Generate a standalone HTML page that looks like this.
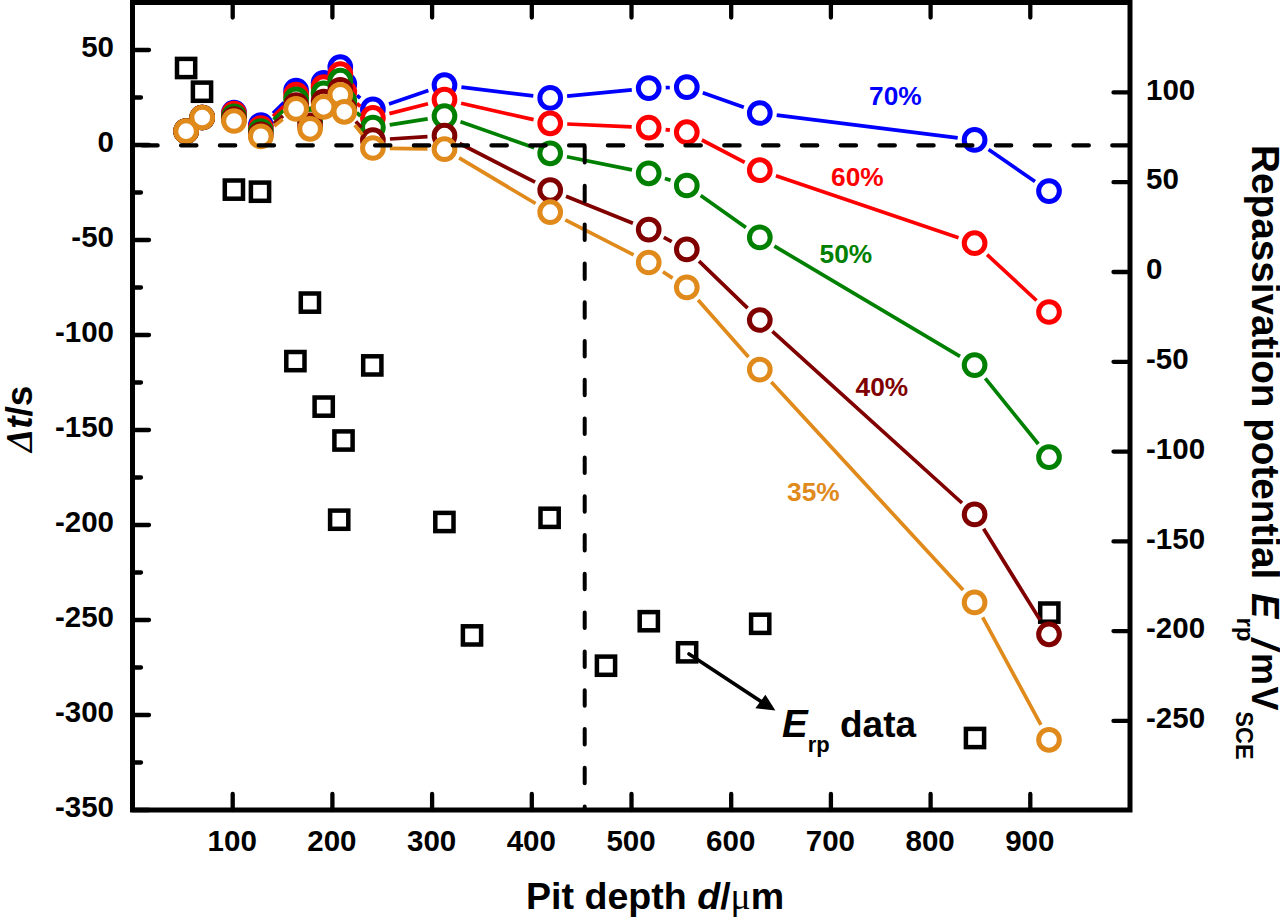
<!DOCTYPE html><html><head><meta charset="utf-8"><style>html,body{margin:0;padding:0;background:#fff;width:1280px;height:920px;overflow:hidden}svg{display:block}text{font-family:"Liberation Sans",sans-serif;font-weight:bold}</style></head><body>
<svg width="1280" height="920" viewBox="0 0 1280 920">
<rect width="1280" height="920" fill="#fff"/>
<rect x="177.0" y="58.9" width="18.2" height="18.2" fill="none" stroke="#000" stroke-width="4.5"/>
<rect x="192.9" y="82.6" width="18.2" height="18.2" fill="none" stroke="#000" stroke-width="4.5"/>
<rect x="224.8" y="180.5" width="18.2" height="18.2" fill="none" stroke="#000" stroke-width="4.5"/>
<rect x="250.9" y="182.6" width="18.2" height="18.2" fill="none" stroke="#000" stroke-width="4.5"/>
<rect x="286.3" y="352.0" width="18.2" height="18.2" fill="none" stroke="#000" stroke-width="4.5"/>
<rect x="300.8" y="293.5" width="18.2" height="18.2" fill="none" stroke="#000" stroke-width="4.5"/>
<rect x="314.6" y="397.5" width="18.2" height="18.2" fill="none" stroke="#000" stroke-width="4.5"/>
<rect x="330.1" y="510.6" width="18.2" height="18.2" fill="none" stroke="#000" stroke-width="4.5"/>
<rect x="334.4" y="431.4" width="18.2" height="18.2" fill="none" stroke="#000" stroke-width="4.5"/>
<rect x="363.2" y="356.3" width="18.2" height="18.2" fill="none" stroke="#000" stroke-width="4.5"/>
<rect x="435.3" y="512.9" width="18.2" height="18.2" fill="none" stroke="#000" stroke-width="4.5"/>
<rect x="462.9" y="626.3" width="18.2" height="18.2" fill="none" stroke="#000" stroke-width="4.5"/>
<rect x="540.5" y="508.7" width="18.2" height="18.2" fill="none" stroke="#000" stroke-width="4.5"/>
<rect x="596.9" y="656.6" width="18.2" height="18.2" fill="none" stroke="#000" stroke-width="4.5"/>
<rect x="639.7" y="612.1" width="18.2" height="18.2" fill="none" stroke="#000" stroke-width="4.5"/>
<rect x="678.0" y="643.2" width="18.2" height="18.2" fill="none" stroke="#000" stroke-width="4.5"/>
<rect x="751.1" y="614.7" width="18.2" height="18.2" fill="none" stroke="#000" stroke-width="4.5"/>
<rect x="965.9" y="728.9" width="18.2" height="18.2" fill="none" stroke="#000" stroke-width="4.5"/>
<rect x="1040.2" y="603.5" width="18.2" height="18.2" fill="none" stroke="#000" stroke-width="4.5"/>
<path d="M273.0 113.3L283.9 102.6M316.0 103.5L317.7 98.8M357.0 95.3L360.2 98.1M389.0 103.9L428.4 90.6M461.4 87.1L533.3 95.9M567.1 96.2L631.8 89.8M665.7 87.7L669.8 87.5M702.8 92.8L743.8 107.3M776.7 115.1L957.7 137.8M988.6 149.5L1035.0 181.5" stroke="#0000ff" stroke-width="3.7" fill="none"/>
<circle cx="186.1" cy="131.2" r="10.35" fill="#fff" stroke="#0000ff" stroke-width="5.0"/>
<circle cx="202.2" cy="117.5" r="10.35" fill="#fff" stroke="#0000ff" stroke-width="5.0"/>
<circle cx="234.0" cy="112.6" r="10.35" fill="#fff" stroke="#0000ff" stroke-width="5.0"/>
<circle cx="260.8" cy="125.2" r="10.35" fill="#fff" stroke="#0000ff" stroke-width="5.0"/>
<circle cx="296.1" cy="90.7" r="10.35" fill="#fff" stroke="#0000ff" stroke-width="5.0"/>
<circle cx="310.1" cy="119.5" r="10.35" fill="#fff" stroke="#0000ff" stroke-width="5.0"/>
<circle cx="323.6" cy="82.8" r="10.35" fill="#fff" stroke="#0000ff" stroke-width="5.0"/>
<circle cx="340.3" cy="67.0" r="10.35" fill="#fff" stroke="#0000ff" stroke-width="5.0"/>
<circle cx="344.3" cy="84.0" r="10.35" fill="#fff" stroke="#0000ff" stroke-width="5.0"/>
<circle cx="372.9" cy="109.4" r="10.35" fill="#fff" stroke="#0000ff" stroke-width="5.0"/>
<circle cx="444.5" cy="85.1" r="10.35" fill="#fff" stroke="#0000ff" stroke-width="5.0"/>
<circle cx="550.2" cy="97.9" r="10.35" fill="#fff" stroke="#0000ff" stroke-width="5.0"/>
<circle cx="648.7" cy="88.1" r="10.35" fill="#fff" stroke="#0000ff" stroke-width="5.0"/>
<circle cx="686.8" cy="87.1" r="10.35" fill="#fff" stroke="#0000ff" stroke-width="5.0"/>
<circle cx="759.8" cy="113.0" r="10.35" fill="#fff" stroke="#0000ff" stroke-width="5.0"/>
<circle cx="974.6" cy="139.9" r="10.35" fill="#fff" stroke="#0000ff" stroke-width="5.0"/>
<circle cx="1049.0" cy="191.1" r="10.35" fill="#fff" stroke="#0000ff" stroke-width="5.0"/>
<path d="M273.1 116.4L283.8 106.3M316.7 103.8L317.0 102.9M356.9 103.4L360.3 106.4M389.4 113.6L428.0 103.8M461.1 103.3L533.6 119.6M567.2 124.0L631.7 126.9M665.6 129.6L669.9 130.2M701.9 140.0L744.7 162.4M775.9 175.7L958.5 237.7M987.1 254.7L1036.5 300.5" stroke="#ff0000" stroke-width="3.7" fill="none"/>
<circle cx="186.1" cy="131.2" r="10.35" fill="#fff" stroke="#ff0000" stroke-width="5.0"/>
<circle cx="202.2" cy="117.5" r="10.35" fill="#fff" stroke="#ff0000" stroke-width="5.0"/>
<circle cx="234.0" cy="113.6" r="10.35" fill="#fff" stroke="#ff0000" stroke-width="5.0"/>
<circle cx="260.8" cy="128.1" r="10.35" fill="#fff" stroke="#ff0000" stroke-width="5.0"/>
<circle cx="296.1" cy="94.6" r="10.35" fill="#fff" stroke="#ff0000" stroke-width="5.0"/>
<circle cx="310.1" cy="119.5" r="10.35" fill="#fff" stroke="#ff0000" stroke-width="5.0"/>
<circle cx="323.6" cy="87.2" r="10.35" fill="#fff" stroke="#ff0000" stroke-width="5.0"/>
<circle cx="340.3" cy="74.1" r="10.35" fill="#fff" stroke="#ff0000" stroke-width="5.0"/>
<circle cx="344.3" cy="92.0" r="10.35" fill="#fff" stroke="#ff0000" stroke-width="5.0"/>
<circle cx="372.9" cy="117.8" r="10.35" fill="#fff" stroke="#ff0000" stroke-width="5.0"/>
<circle cx="444.5" cy="99.6" r="10.35" fill="#fff" stroke="#ff0000" stroke-width="5.0"/>
<circle cx="550.2" cy="123.3" r="10.35" fill="#fff" stroke="#ff0000" stroke-width="5.0"/>
<circle cx="648.7" cy="127.6" r="10.35" fill="#fff" stroke="#ff0000" stroke-width="5.0"/>
<circle cx="686.8" cy="132.2" r="10.35" fill="#fff" stroke="#ff0000" stroke-width="5.0"/>
<circle cx="759.8" cy="170.2" r="10.35" fill="#fff" stroke="#ff0000" stroke-width="5.0"/>
<circle cx="974.6" cy="243.2" r="10.35" fill="#fff" stroke="#ff0000" stroke-width="5.0"/>
<circle cx="1049.0" cy="312.0" r="10.35" fill="#fff" stroke="#ff0000" stroke-width="5.0"/>
<path d="M273.5 119.7L283.4 110.7M356.7 112.6L360.5 116.0M389.7 124.9L427.7 118.8M460.5 121.7L534.2 147.7M566.9 156.7L632.0 169.9M664.9 178.5L670.6 180.3M700.7 195.4L745.9 227.5M774.4 246.1L960.0 356.4M985.3 378.3L1038.3 444.0" stroke="#008000" stroke-width="3.7" fill="none"/>
<circle cx="186.1" cy="131.2" r="10.35" fill="#fff" stroke="#008000" stroke-width="5.0"/>
<circle cx="202.2" cy="117.5" r="10.35" fill="#fff" stroke="#008000" stroke-width="5.0"/>
<circle cx="234.0" cy="116.4" r="10.35" fill="#fff" stroke="#008000" stroke-width="5.0"/>
<circle cx="260.8" cy="131.0" r="10.35" fill="#fff" stroke="#008000" stroke-width="5.0"/>
<circle cx="296.1" cy="99.4" r="10.35" fill="#fff" stroke="#008000" stroke-width="5.0"/>
<circle cx="310.1" cy="119.5" r="10.35" fill="#fff" stroke="#008000" stroke-width="5.0"/>
<circle cx="323.6" cy="93.3" r="10.35" fill="#fff" stroke="#008000" stroke-width="5.0"/>
<circle cx="340.3" cy="80.7" r="10.35" fill="#fff" stroke="#008000" stroke-width="5.0"/>
<circle cx="344.3" cy="101.0" r="10.35" fill="#fff" stroke="#008000" stroke-width="5.0"/>
<circle cx="372.9" cy="127.6" r="10.35" fill="#fff" stroke="#008000" stroke-width="5.0"/>
<circle cx="444.5" cy="116.1" r="10.35" fill="#fff" stroke="#008000" stroke-width="5.0"/>
<circle cx="550.2" cy="153.3" r="10.35" fill="#fff" stroke="#008000" stroke-width="5.0"/>
<circle cx="648.7" cy="173.3" r="10.35" fill="#fff" stroke="#008000" stroke-width="5.0"/>
<circle cx="686.8" cy="185.5" r="10.35" fill="#fff" stroke="#008000" stroke-width="5.0"/>
<circle cx="759.8" cy="237.4" r="10.35" fill="#fff" stroke="#008000" stroke-width="5.0"/>
<circle cx="974.6" cy="365.1" r="10.35" fill="#fff" stroke="#008000" stroke-width="5.0"/>
<circle cx="1049.0" cy="457.2" r="10.35" fill="#fff" stroke="#008000" stroke-width="5.0"/>
<path d="M273.9 123.5L283.0 115.9M355.8 121.5L361.4 127.5M389.9 139.0L427.5 136.7M459.6 143.5L535.1 182.2M566.0 196.3L632.9 223.3M663.8 237.4L671.7 241.6M699.0 261.2L747.6 308.2M772.4 331.4L962.0 503.0M983.6 528.8L1040.0 619.9" stroke="#800000" stroke-width="3.7" fill="none"/>
<circle cx="186.1" cy="131.2" r="10.35" fill="#fff" stroke="#800000" stroke-width="5.0"/>
<circle cx="202.2" cy="117.5" r="10.35" fill="#fff" stroke="#800000" stroke-width="5.0"/>
<circle cx="234.0" cy="119.0" r="10.35" fill="#fff" stroke="#800000" stroke-width="5.0"/>
<circle cx="260.8" cy="134.4" r="10.35" fill="#fff" stroke="#800000" stroke-width="5.0"/>
<circle cx="296.1" cy="105.0" r="10.35" fill="#fff" stroke="#800000" stroke-width="5.0"/>
<circle cx="310.1" cy="125.4" r="10.35" fill="#fff" stroke="#800000" stroke-width="5.0"/>
<circle cx="323.6" cy="101.5" r="10.35" fill="#fff" stroke="#800000" stroke-width="5.0"/>
<circle cx="340.3" cy="89.8" r="10.35" fill="#fff" stroke="#800000" stroke-width="5.0"/>
<circle cx="344.3" cy="109.0" r="10.35" fill="#fff" stroke="#800000" stroke-width="5.0"/>
<circle cx="372.9" cy="140.0" r="10.35" fill="#fff" stroke="#800000" stroke-width="5.0"/>
<circle cx="444.5" cy="135.7" r="10.35" fill="#fff" stroke="#800000" stroke-width="5.0"/>
<circle cx="550.2" cy="190.0" r="10.35" fill="#fff" stroke="#800000" stroke-width="5.0"/>
<circle cx="648.7" cy="229.6" r="10.35" fill="#fff" stroke="#800000" stroke-width="5.0"/>
<circle cx="686.8" cy="249.4" r="10.35" fill="#fff" stroke="#800000" stroke-width="5.0"/>
<circle cx="759.8" cy="320.0" r="10.35" fill="#fff" stroke="#800000" stroke-width="5.0"/>
<circle cx="974.6" cy="514.4" r="10.35" fill="#fff" stroke="#800000" stroke-width="5.0"/>
<circle cx="1049.0" cy="634.3" r="10.35" fill="#fff" stroke="#800000" stroke-width="5.0"/>
<path d="M274.2 126.0L282.7 119.3M354.8 125.1L362.4 134.7M389.9 148.3L427.5 148.9M459.1 157.9L535.6 203.5M565.3 219.9L633.6 254.8M662.9 271.8L672.6 278.1M698.1 300.1L748.5 356.9M771.3 382.1L963.1 589.9M982.7 617.3L1040.9 724.9" stroke="#e08a1c" stroke-width="3.7" fill="none"/>
<circle cx="186.1" cy="131.2" r="10.35" fill="#fff" stroke="#e08a1c" stroke-width="5.0"/>
<circle cx="202.2" cy="117.5" r="10.35" fill="#fff" stroke="#e08a1c" stroke-width="5.0"/>
<circle cx="234.0" cy="121.0" r="10.35" fill="#fff" stroke="#e08a1c" stroke-width="5.0"/>
<circle cx="260.8" cy="136.4" r="10.35" fill="#fff" stroke="#e08a1c" stroke-width="5.0"/>
<circle cx="296.1" cy="108.9" r="10.35" fill="#fff" stroke="#e08a1c" stroke-width="5.0"/>
<circle cx="310.1" cy="128.8" r="10.35" fill="#fff" stroke="#e08a1c" stroke-width="5.0"/>
<circle cx="323.6" cy="106.8" r="10.35" fill="#fff" stroke="#e08a1c" stroke-width="5.0"/>
<circle cx="340.3" cy="94.8" r="10.35" fill="#fff" stroke="#e08a1c" stroke-width="5.0"/>
<circle cx="344.3" cy="111.8" r="10.35" fill="#fff" stroke="#e08a1c" stroke-width="5.0"/>
<circle cx="372.9" cy="148.0" r="10.35" fill="#fff" stroke="#e08a1c" stroke-width="5.0"/>
<circle cx="444.5" cy="149.2" r="10.35" fill="#fff" stroke="#e08a1c" stroke-width="5.0"/>
<circle cx="550.2" cy="212.2" r="10.35" fill="#fff" stroke="#e08a1c" stroke-width="5.0"/>
<circle cx="648.7" cy="262.5" r="10.35" fill="#fff" stroke="#e08a1c" stroke-width="5.0"/>
<circle cx="686.8" cy="287.4" r="10.35" fill="#fff" stroke="#e08a1c" stroke-width="5.0"/>
<circle cx="759.8" cy="369.6" r="10.35" fill="#fff" stroke="#e08a1c" stroke-width="5.0"/>
<circle cx="974.6" cy="602.4" r="10.35" fill="#fff" stroke="#e08a1c" stroke-width="5.0"/>
<circle cx="1049.0" cy="739.8" r="10.35" fill="#fff" stroke="#e08a1c" stroke-width="5.0"/>
<line x1="142.3" y1="145.4" x2="1128" y2="145.4" stroke="#000" stroke-width="4.3" stroke-linecap="round" stroke-dasharray="15.3 23.5"/>
<line x1="584.7" y1="147" x2="584.7" y2="809" stroke="#000" stroke-width="4" stroke-linecap="round" stroke-dasharray="15.5 23.3"/>
<path d="M132.5 2.5H1130V810H132.5Z" fill="none" stroke="#000" stroke-width="5" stroke-linejoin="miter"/>
<path d="M232.7 810V794M232.7 2.5V17.5M332.4 810V794M332.4 2.5V17.5M432.1 810V794M432.1 2.5V17.5M531.8 810V794M531.8 2.5V17.5M631.5 810V794M631.5 2.5V17.5M731.2 810V794M731.2 2.5V17.5M830.9 810V794M830.9 2.5V17.5M930.6 810V794M930.6 2.5V17.5M1030.3 810V794M1030.3 2.5V17.5M132.5 810.0H149.0M132.5 762.5H141.0M132.5 715.0H149.0M132.5 667.5H141.0M132.5 620.0H149.0M132.5 572.5H141.0M132.5 525.0H149.0M132.5 477.5H141.0M132.5 430.0H149.0M132.5 382.5H141.0M132.5 335.0H149.0M132.5 287.5H141.0M132.5 240.0H149.0M132.5 192.5H141.0M132.5 145.0H149.0M132.5 97.5H141.0M132.5 50.0H149.0M132.5 2.5H141.0M1130 720.9H1113.5M1130 631.1H1113.5M1130 541.4H1113.5M1130 451.6H1113.5M1130 361.8H1113.5M1130 272.0H1113.5M1130 182.2H1113.5M1130 92.4H1113.5" stroke="#000" stroke-width="4.3" stroke-linecap="round" fill="none"/>
<text x="114" y="817.1" font-size="29.5" text-anchor="end">-350</text>
<text x="114" y="722.1" font-size="29.5" text-anchor="end">-300</text>
<text x="114" y="627.1" font-size="29.5" text-anchor="end">-250</text>
<text x="114" y="532.1" font-size="29.5" text-anchor="end">-200</text>
<text x="114" y="437.1" font-size="29.5" text-anchor="end">-150</text>
<text x="114" y="342.1" font-size="29.5" text-anchor="end">-100</text>
<text x="114" y="247.1" font-size="29.5" text-anchor="end">-50</text>
<text x="114" y="152.1" font-size="29.5" text-anchor="end">0</text>
<text x="114" y="57.1" font-size="29.5" text-anchor="end">50</text>
<text x="232.2" y="850.5" font-size="29.5" text-anchor="middle">100</text>
<text x="331.9" y="850.5" font-size="29.5" text-anchor="middle">200</text>
<text x="431.6" y="850.5" font-size="29.5" text-anchor="middle">300</text>
<text x="531.3" y="850.5" font-size="29.5" text-anchor="middle">400</text>
<text x="631.0" y="850.5" font-size="29.5" text-anchor="middle">500</text>
<text x="730.7" y="850.5" font-size="29.5" text-anchor="middle">600</text>
<text x="830.4" y="850.5" font-size="29.5" text-anchor="middle">700</text>
<text x="930.1" y="850.5" font-size="29.5" text-anchor="middle">800</text>
<text x="1029.8" y="850.5" font-size="29.5" text-anchor="middle">900</text>
<text x="1146" y="728.0" font-size="29.5">-250</text>
<text x="1146" y="638.2" font-size="29.5">-200</text>
<text x="1146" y="548.5" font-size="29.5">-150</text>
<text x="1146" y="458.7" font-size="29.5">-100</text>
<text x="1146" y="368.9" font-size="29.5">-50</text>
<text x="1146" y="279.1" font-size="29.5">0</text>
<text x="1146" y="189.3" font-size="29.5">50</text>
<text x="1146" y="99.5" font-size="29.5">100</text>
<text x="526" y="909" font-size="37.6">Pit depth <tspan font-style="italic">d</tspan>/<tspan font-family="Liberation Serif" font-weight="normal">&#956;</tspan>m</text>
<text transform="translate(31.5,452) rotate(-90)" font-size="37"><tspan font-family="Liberation Serif" font-style="italic" font-size="37">&#916;</tspan><tspan font-style="italic">t</tspan>/s</text>
<g transform="translate(1252,0) rotate(90)">
<text x="145.1" y="0" font-size="38.7">Repassivation potential</text>
<text x="593" y="0" font-size="38" font-style="italic">E</text>
<text x="617.5" y="15" font-size="24">rp</text>
<text x="638.4" y="0" font-size="38" font-style="italic">/</text>
<text x="653" y="0" font-size="36">m<tspan dx="1.5">V</tspan></text>
<text x="711.3" y="16" font-size="23.5" font-weight="normal">SCE</text>
</g>
<text x="869" y="104.5" font-size="26.3" fill="#0000ff">70%</text>
<text x="831" y="186" font-size="26.3" fill="#ff0000">60%</text>
<text x="819.5" y="263" font-size="26.3" fill="#008000">50%</text>
<text x="855.5" y="396" font-size="26.3" fill="#800000">40%</text>
<text x="787" y="501" font-size="26.3" fill="#e08a1c">35%</text>
<line x1="689" y1="654" x2="764" y2="703.5" stroke="#000" stroke-width="3.6" stroke-linecap="round"/>
<path d="M775.4 710.6L755.3 708.2L765.4 694.8Z" fill="#000"/>
<text x="782" y="737" font-size="37"><tspan font-style="italic" font-size="38.5">E</tspan><tspan font-size="22" dy="15">rp</tspan><tspan dy="-15"> data</tspan></text>
</svg></body></html>
